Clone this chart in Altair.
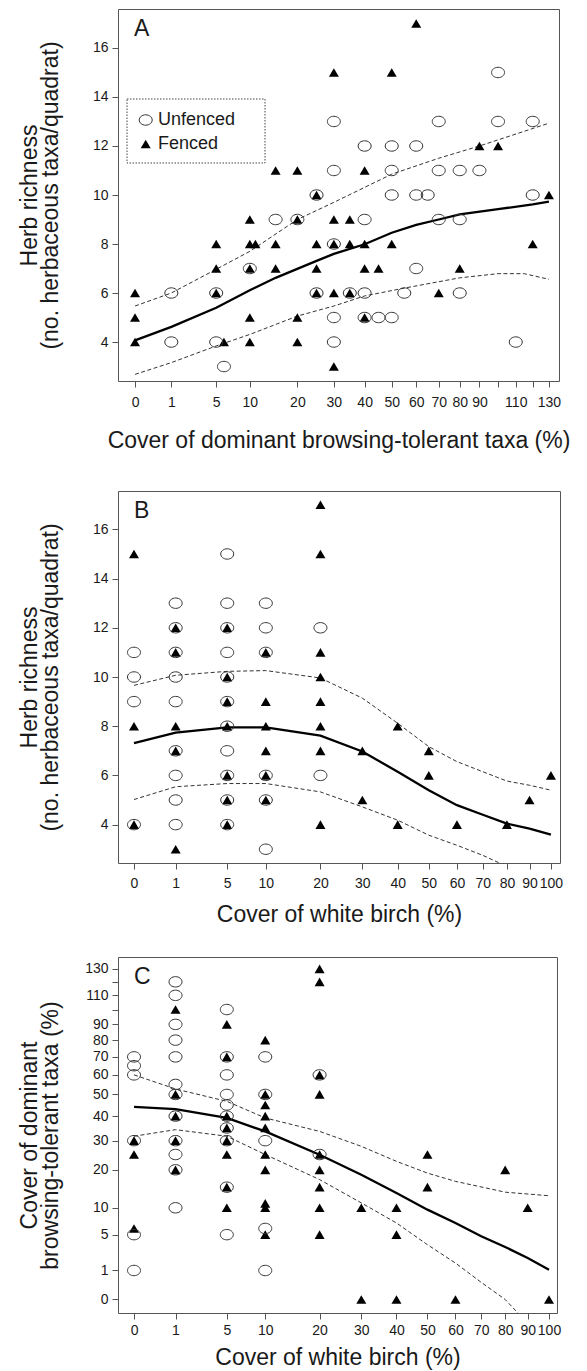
import altair as alt
import pandas as pd

FONT = "Liberation Sans"
TXT = "#1a1a1a"
FRAME = "#555555"
ELLIPSE = "M -1 0 A 1 0.8 0 1 1 1 0 A 1 0.8 0 1 1 -1 0 Z"

# ---------------- Panel A ----------------
a_unf_x = [100, 30, 70, 100, 120, 40, 50, 60, 30, 50, 70, 80, 90, 25, 50, 60, 65, 120,
           15, 20, 40, 70, 80, 30, 10, 60, 1, 5, 25, 35, 40, 55, 80, 30, 40, 45, 50,
           1, 5, 30, 110, 6]
a_unf_y = [15, 13, 13, 13, 13, 12, 12, 12, 11, 11, 11, 11, 11, 10, 10, 10, 10, 10,
           9, 9, 9, 9, 9, 8, 7, 7, 6, 6, 6, 6, 6, 6, 6, 5, 5, 5, 5,
           4, 4, 4, 4, 3]
a_fen_x = [60, 30, 50, 90, 100, 15, 20, 40, 25, 130, 10, 20, 30, 35, 5, 10, 11, 15, 25,
           30, 35, 40, 50, 120, 5, 10, 15, 25, 40, 45, 80, 0, 5, 25, 30, 35, 70,
           0, 10, 20, 40, 0, 6, 10, 20, 30]
a_fen_y = [17, 15, 15, 12, 12, 11, 11, 11, 10, 10, 9, 9, 9, 9, 8, 8, 8, 8, 8,
           8, 8, 8, 8, 8, 7, 7, 7, 7, 7, 7, 7, 6, 6, 6, 6, 6, 6,
           5, 5, 5, 5, 4, 4, 4, 4, 3]
a_fit_x = [0, 1, 5, 10, 15, 25, 30, 40, 50, 60, 70, 80, 100, 120, 130]
a_fit_y = [4.07, 4.62, 5.4, 6.11, 6.62, 7.31, 7.6, 7.99, 8.46, 8.78, 9.0, 9.21, 9.42, 9.62, 9.73]
a_hi_x = [0, 1, 5, 10, 20, 30, 50, 70, 90, 130]
a_hi_y = [5.47, 6.0, 6.97, 7.7, 9.0, 9.7, 10.85, 11.5, 12.0, 12.93]
a_lo_x = [0, 1, 5, 10, 20, 30, 40, 55, 80, 100, 115, 130]
a_lo_y = [2.68, 3.16, 3.84, 4.31, 5.06, 5.47, 5.88, 6.2, 6.62, 6.79, 6.79, 6.56]

# ---------------- Panel B ----------------
b_unf_x = [5, 1, 5, 10, 1, 5, 10, 20, 0, 1, 5, 10, 0, 1, 5, 0, 1, 5, 5, 1, 5,
           1, 5, 10, 20, 1, 5, 10, 0, 1, 5, 10]
b_unf_y = [15, 13, 13, 13, 12, 12, 12, 12, 11, 11, 11, 11, 10, 10, 10, 9, 9, 9, 8, 7, 7,
           6, 6, 6, 6, 5, 5, 5, 4, 4, 4, 3]
b_fen_x = [20, 0, 20, 1, 5, 1, 10, 20, 5, 20, 5, 10, 20, 0, 1, 5, 10, 20, 40,
           1, 10, 20, 30, 50, 5, 10, 50, 100, 5, 10, 30, 90, 0, 5, 20, 40, 60, 80, 1]
b_fen_y = [17, 15, 15, 12, 12, 11, 11, 11, 10, 10, 9, 9, 9, 8, 8, 8, 8, 8, 8,
           7, 7, 7, 7, 7, 6, 6, 6, 6, 5, 5, 5, 5, 4, 4, 4, 4, 4, 4, 3]
b_fit_x = [0, 1, 5, 10, 20, 30, 40, 50, 60, 70, 80, 90, 100]
b_fit_y = [7.31, 7.74, 7.95, 7.95, 7.62, 6.97, 6.15, 5.4, 4.79, 4.4, 4.04, 3.84, 3.59]
b_hi_x = [0, 1, 5, 10, 20, 30, 40, 50, 60, 70, 80, 90, 100]
b_hi_y = [9.66, 10.07, 10.23, 10.26, 9.96, 9.14, 8.12, 7.17, 6.56, 6.15, 5.77, 5.6, 5.4]
b_lo_x = [0, 1, 5, 10, 20, 30, 40, 50, 60, 70, 80]
b_lo_y = [5.02, 5.54, 5.67, 5.67, 5.33, 4.72, 4.18, 3.57, 3.16, 2.75, 2.3]

# ---------------- Panel C ----------------
c_unf_x = [0, 0, 0, 0, 0, 0, 1, 1, 1, 1, 1, 1, 1, 1, 1, 1, 1, 1,
           5, 5, 5, 5, 5, 5, 5, 5, 5, 5, 10, 10, 10, 10, 10, 20, 20]
c_unf_y = [70, 65, 60, 30, 5, 1, 120, 110, 90, 80, 70, 55, 50, 40, 30, 25, 20, 10,
           100, 70, 60, 50, 45, 40, 35, 30, 15, 5, 70, 50, 30, 6, 1, 60, 25]
c_fen_x = [0, 0, 0, 1, 1, 1, 1, 1, 5, 5, 5, 5, 5, 5, 5, 5, 10, 10, 10, 10, 10, 10,
           10, 10, 10, 10, 20, 20, 20, 20, 20, 20, 20, 20, 20, 30, 30, 40, 40, 40,
           50, 50, 60, 80, 90, 100]
c_fen_y = [30, 25, 6, 100, 50, 40, 30, 20, 90, 70, 40, 35, 30, 25, 15, 10, 80, 50, 45,
           40, 35, 25, 20, 11, 10, 5, 130, 120, 60, 50, 25, 20, 15, 10, 5, 10, 0, 10, 5, 0,
           25, 15, 0, 20, 10, 0]
c_fit_x = [0, 1, 5, 10, 20, 30, 40, 50, 60, 70, 80, 90, 100]
c_fit_y = [44.1, 43.1, 39.2, 33.6, 24.9, 18.5, 13.5, 9.6, 6.96, 4.75, 3.28, 2.05, 1.06]
c_hi_x = [0, 1, 5, 10, 20, 30, 40, 50, 60, 80, 100]
c_hi_y = [60, 52.7, 46.7, 39.2, 33.6, 27.9, 22.7, 19.0, 16.6, 13.7, 12.8]
c_lo_x = [0, 1, 5, 10, 20, 30, 40, 50, 60, 70, 80, 86]
c_lo_y = [31.7, 34.3, 31.7, 25, 17.1, 11.1, 6.96, 3.57, 1.58, 0.35, 0.0, -0.25]

ticks_a = [0, 1, 5, 10, 20, 30, 40, 50, 60, 70, 80, 90, 100, 110, 120, 130]
ticks_bc = [0, 1, 5, 10, 20, 30, 40, 50, 60, 70, 80, 90, 100]
ticks_rich = [4, 6, 8, 10, 12, 14, 16]
ticks_cy = [0, 1, 5, 10, 20, 30, 40, 50, 60, 70, 80, 90, 100, 110, 120, 130]
legend_labels = ["Unfenced", "Fenced"]

HIDE = "(datum.value == 100 || datum.value == 120) ? '' : datum.label"


def axis(title, values, tick_pad, title_pad, label_expr=None, multiline=False):
    kw = dict(values=values, title=title, tickSize=6, labelPadding=tick_pad,
              titlePadding=title_pad, grid=False, domain=False, labelOverlap=False,
              labelFlush=False, labelFontSize=14, titleFontSize=23,
              titleFontWeight="normal", tickColor=FRAME, tickWidth=1,
              labelColor=TXT, titleColor=TXT, labelFont=FONT, titleFont=FONT)
    if label_expr:
        kw["labelExpr"] = label_expr
    if multiline:
        kw["titleLineHeight"] = 21
    return alt.Axis(**kw)


def df(xx, yy):
    return pd.DataFrame({"x": xx, "y": yy})


def panel(data, xscale, yscale, xaxis, yaxis, width, height, letter, legend=False, reach=None):
    (ux, uy, fx, fy, fitx, fity, lox, loy, hix, hiy) = data
    X = alt.X("x:Q", scale=xscale, axis=xaxis)
    Y = alt.Y("y:Q", scale=yscale, axis=yaxis)
    dash = dict(clip=True, strokeDash=[4, 2.5], strokeWidth=1, color="#333333")
    lo = alt.Chart(df(lox, loy)).mark_line(**dash).encode(x=X, y=Y)
    hi = alt.Chart(df(hix, hiy)).mark_line(**dash).encode(x=X, y=Y)
    fit = alt.Chart(df(fitx, fity)).mark_line(clip=True, strokeWidth=2.3, color="black").encode(x=X, y=Y)
    tri = alt.Chart(df(fx, fy)).mark_point(shape="triangle-up", filled=True, size=100,
                                           color="black", opacity=1).encode(x=X, y=Y)
    circ = alt.Chart(df(ux, uy)).mark_point(shape=ELLIPSE, filled=False, size=169,
                                            stroke="#333333", strokeWidth=1, opacity=1).encode(x=X, y=Y)
    lab = alt.Chart(pd.DataFrame({"t": [letter]})).mark_text(
        align="left", baseline="alphabetic", fontSize=23, font=FONT, color=TXT
    ).encode(x=alt.value(16), y=alt.value(27), text="t:N")
    layers = [lo, hi, fit, tri, circ, lab]
    one = pd.DataFrame({"a": [0]})
    if reach is not None:
        # invisible spacer so that the panel's layout bounds reach further left
        layers.append(alt.Chart(one).mark_rule(opacity=0, strokeOpacity=0).encode(
            x=alt.value(reach), y=alt.value(0), y2=alt.value(10)))
    if legend:
        box = alt.Chart(one).mark_rect(fill="white", fillOpacity=0, stroke="#444444",
                                       strokeDash=[1.5, 1.5], strokeWidth=1).encode(
            x=alt.value(9), x2=alt.value(147), y=alt.value(90), y2=alt.value(154))
        lc = alt.Chart(one).mark_point(shape=ELLIPSE, filled=False, size=169, stroke="#333333",
                                       strokeWidth=1, opacity=1).encode(x=alt.value(27.7), y=alt.value(111))
        lt = alt.Chart(one).mark_point(shape="triangle-up", filled=True, size=100, color="black",
                                       opacity=1).encode(x=alt.value(27.7), y=alt.value(135))
        t1 = alt.Chart(pd.DataFrame({"t": [legend_labels[0]]})).mark_text(
            align="left", baseline="middle", fontSize=18, font=FONT, color=TXT
        ).encode(x=alt.value(40), y=alt.value(111), text="t:N")
        t2 = alt.Chart(pd.DataFrame({"t": [legend_labels[1]]})).mark_text(
            align="left", baseline="middle", fontSize=18, font=FONT, color=TXT
        ).encode(x=alt.value(40), y=alt.value(135), text="t:N")
        layers += [box, lc, lt, t1, t2]
    return alt.layer(*layers).properties(width=width, height=height)


rich_title = ["Herb richness", "(no. herbaceous taxa/quadrat)"]

A = panel(
    (a_unf_x, a_unf_y, a_fen_x, a_fen_y, a_fit_x, a_fit_y, a_lo_x, a_lo_y, a_hi_x, a_hi_y),
    alt.Scale(type="sqrt", domain=[-0.22, 136.4], zero=False, nice=False),
    alt.Scale(domain=[2.41, 17.59], zero=False, nice=False),
    axis("Cover of dominant browsing-tolerant taxa (%)", ticks_a, 8, 20, HIDE),
    axis(rich_title, ticks_rich, 4, 30, multiline=True),
    441, 372, "A", legend=True)

B = panel(
    (b_unf_x, b_unf_y, b_fen_x, b_fen_y, b_fit_x, b_fit_y, b_lo_x, b_lo_y, b_hi_x, b_hi_y),
    alt.Scale(type="sqrt", domain=[-0.147, 104.4], zero=False, nice=False),
    alt.Scale(domain=[2.44, 17.56], zero=False, nice=False),
    axis("Cover of white birch (%)", ticks_bc, 7, 13),
    axis(rich_title, ticks_rich, 4, 30, multiline=True),
    442, 372, "B")

C = panel(
    (c_unf_x, c_unf_y, c_fen_x, c_fen_y, c_fit_x, c_fit_y, c_lo_x, c_lo_y, c_hi_x, c_hi_y),
    alt.Scale(type="sqrt", domain=[-0.149, 103.9], zero=False, nice=False),
    alt.Scale(type="sqrt", domain=[-0.217, 139.5], zero=False, nice=False),
    axis("Cover of white birch (%)", ticks_bc, 4, 9),
    axis(["Cover of dominant", "browsing-tolerant taxa (%)"], ticks_cy, 4, 22, HIDE, multiline=True),
    439, 356, "C", reach=-107)

inner = alt.ConcatChart(concat=[A, B], columns=1, spacing=37, align="none")
chart = alt.ConcatChart(concat=[inner, C], columns=1, spacing=29, align="none").properties(
    padding={"left": 2, "top": 0, "right": 0, "bottom": 0}
).configure(font=FONT).configure_view(stroke=FRAME, strokeWidth=1)

chart.save("out.html", embed_options={"renderer": "svg", "actions": False})
